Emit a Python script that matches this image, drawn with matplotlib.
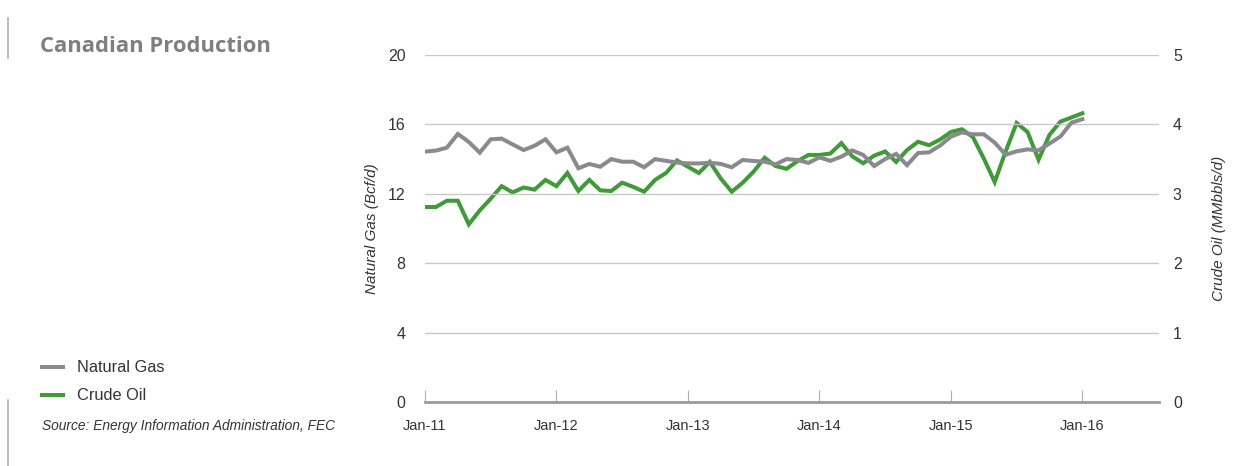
import matplotlib.pyplot as plt
import numpy as np
from matplotlib.lines import Line2D

# Monthly Canadian production, Jan-11 .. Jan-16
gas_bcfd = [14.43, 14.49, 14.66, 15.45, 14.99, 14.37, 15.14, 15.18, 14.85, 14.52,
            14.77, 15.14, 14.39, 14.66, 13.47, 13.72, 13.56, 14.00, 13.85, 13.85,
            13.53, 14.00, 13.90, 13.80, 13.75, 13.75, 13.79, 13.72, 13.53, 13.95,
            13.89, 13.85, 13.70, 14.00, 13.95, 13.78, 14.10, 13.90, 14.14, 14.50,
            14.24, 13.60, 14.00, 14.30, 13.65, 14.35, 14.39, 14.77, 15.29, 15.54,
            15.43, 15.43, 14.95, 14.25, 14.45, 14.56, 14.50, 14.90, 15.30, 16.10,
            16.30]
oil_mmbd = [2.81, 2.81, 2.90, 2.90, 2.56, 2.76, 2.93, 3.11, 3.02, 3.09,
            3.06, 3.20, 3.11, 3.30, 3.04, 3.20, 3.05, 3.04, 3.16, 3.10,
            3.03, 3.20, 3.30, 3.48, 3.39, 3.30, 3.46, 3.22, 3.03, 3.16,
            3.32, 3.52, 3.40, 3.36, 3.47, 3.56, 3.56, 3.58, 3.73, 3.54,
            3.44, 3.55, 3.61, 3.46, 3.63, 3.75, 3.70, 3.78, 3.89, 3.93,
            3.82, 3.51, 3.17, 3.61, 4.02, 3.89, 3.49, 3.85, 4.04, 4.10,
            4.16]
months = np.arange(len(gas_bcfd))

xtick_pos = [0, 12, 24, 36, 48, 60]
xtick_labels = ['Jan-11', 'Jan-12', 'Jan-13', 'Jan-14', 'Jan-15', 'Jan-16']
gas_ticks = [0, 4, 8, 12, 16, 20]
oil_ticks = [0, 1, 2, 3, 4, 5]

GAS_COL = '#8a8a8e'
OIL_COL = '#3f9a37'
TXT = '#333333'

plt.rcParams['font.family'] = ['Liberation Sans', 'DejaVu Sans']

fig = plt.figure(figsize=(12.51, 4.66), dpi=100)
ax = fig.add_axes([0.3397, 0.1373, 0.9265 - 0.3397, 0.882 - 0.1373])
ax2 = ax.twinx()

ax.plot(months, gas_bcfd, color=GAS_COL, lw=2.9, solid_joinstyle='miter', zorder=3)
ax2.plot(months, oil_mmbd, color=OIL_COL, lw=2.9, solid_joinstyle='miter', zorder=3)

ax.set_xlim(0, 67)
ax.set_ylim(0, 20)
ax2.set_ylim(0, 5)
ax.set_yticks(gas_ticks)
ax2.set_yticks(oil_ticks)
ax.set_xticks(xtick_pos)
ax.set_xticklabels(xtick_labels)

for y in gas_ticks[1:]:
    ax.axhline(y, color='#c8c8c8', lw=1.0, zorder=1)

for a in (ax, ax2):
    for s in a.spines.values():
        s.set_visible(False)
ax.spines['bottom'].set_visible(True)
ax.spines['bottom'].set_color('#9a9a9a')
ax.spines['bottom'].set_linewidth(2.0)

ax.tick_params(axis='x', direction='in', length=9, width=0.8, color='#b0b0b0',
               labelsize=10.5, labelcolor=TXT, pad=12)
ax.tick_params(axis='y', length=0, labelsize=11.5, labelcolor=TXT, pad=14)
ax2.tick_params(axis='y', length=0, labelsize=11.5, labelcolor=TXT, pad=10)

ax.set_ylabel('Natural Gas (Bcf/d)', fontstyle='italic', fontsize=11, color=TXT, labelpad=6)
ax2.set_ylabel('Crude Oil (MMbbls/d)', fontstyle='italic', fontsize=11, color=TXT, labelpad=22)
ax.set_zorder(ax2.get_zorder() + 1)
ax.patch.set_visible(False)

# title, legend and source on the left
fig.text(40 / 1251, 1 - 46 / 466, 'Canadian Production', family='Open Sans',
         fontweight='bold', fontsize=15.8, color='#7f7f82', va='center')

for yy, col, lab in [(367, GAS_COL, 'Natural Gas'), (395, OIL_COL, 'Crude Oil')]:
    fig.add_artist(Line2D([42 / 1251, 63 / 1251], [1 - yy / 466] * 2,
                          color=col, lw=2.9))
    fig.text(77 / 1251, 1 - yy / 466, lab, fontsize=11.8, color=TXT, va='center')

fig.text(42 / 1251, 1 - 426 / 466, 'Source: Energy Information Administration, FEC',
         fontsize=9.9, fontstyle='italic', color=TXT, va='center')

# thin page rules at the left edge
fig.add_artist(Line2D([8 / 1251] * 2, [1 - 18 / 466, 1 - 58 / 466], color='#b0b0b0', lw=1.2))
fig.add_artist(Line2D([8 / 1251] * 2, [1 - 400 / 466, 0], color='#b0b0b0', lw=1.2))

fig.savefig('out.png', dpi=100)
